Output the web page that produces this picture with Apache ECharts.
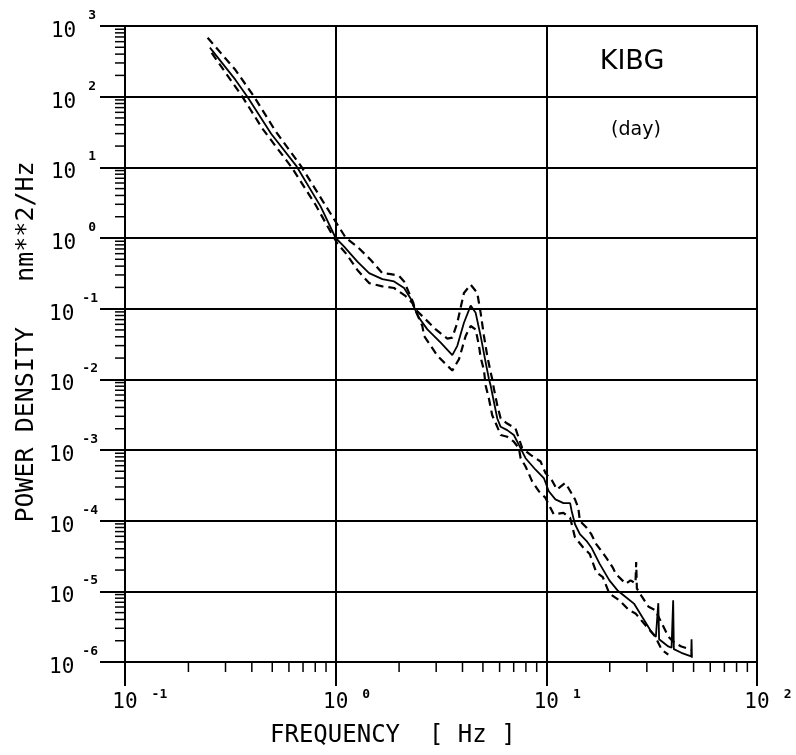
<!DOCTYPE html>
<html>
<head>
<meta charset="utf-8">
<title>KIBG power density</title>
<script src="https://cdn.jsdelivr.net/npm/echarts@6/dist/echarts.min.js"></script>
<style>
  html, body { margin: 0; padding: 0; background: #fff; }
  #chart { width: 796px; height: 755px; }
</style>
</head>
<body>
<div id="chart"></div>
<script>
// Axis ranges (log scales)
const X_MIN = 0.1, X_MAX = 100;
const Y_MIN = 1e-6, Y_MAX = 1e3;

// Mean power density spectrum (solid)
const freqMean = [0.253, 0.334, 0.381, 0.494, 0.653, 0.848, 1.0, 1.097, 1.268, 1.441, 1.666, 1.894,
  2.112, 2.287, 2.374, 2.487, 2.724, 3.152, 3.578, 3.779, 4.064, 4.374, 4.618, 4.877, 5.151, 5.34,
  5.44, 5.64, 5.85, 6.07, 6.52, 7.01, 7.41, 7.97, 8.89, 9.73, 10.27, 11.04, 12.06, 12.97, 13.19,
  13.68, 14.43, 15.5, 16.35, 17.89, 19.92, 21.78, 23.81, 26.06, 28.48, 31.13, 33.1, 33.7, 34.0,
  34.3, 34.92, 37.93, 39.3, 39.7, 40.0, 40.3, 43.75, 48.7, 48.9, 49.1];
const powMean = [495, 174, 100, 29.9, 10.3, 2.8, 1.0, 0.753, 0.464, 0.318, 0.262, 0.243,
  0.196, 0.134, 0.0993, 0.0743, 0.0509, 0.0331, 0.0220, 0.0298, 0.0632, 0.1105, 0.0873, 0.0411, 0.0174, 0.0101,
  0.00818, 0.00478, 0.00279, 0.00213, 0.00191, 0.00163, 0.00118, 0.000765, 0.000526, 0.000401, 0.000261, 0.0002, 0.000177, 0.000177, 0.000137,
  0.000089, 0.0000644, 0.0000519, 0.0000418, 0.0000247, 0.0000143, 0.0000103, 0.00000832, 0.00000671, 0.00000436, 0.00000284, 0.00000226, 0.0000022, 0.0000068,
  0.0000021, 0.00000199, 0.00000166, 0.00000159, 0.00000158, 0.0000075, 0.00000152, 0.00000135, 0.0000012, 0.0000021, 0.00000115];

// Upper bound (dashed)
const freqUpper = [0.2467, 0.334, 0.410, 0.52, 0.691, 0.87, 1.118, 1.268, 1.468, 1.666, 1.827, 2.0,
  2.112, 2.23, 2.338, 2.374, 2.627, 2.985, 3.388, 3.578, 3.779, 4.064, 4.374, 4.70, 4.877, 5.057,
  5.24, 5.44, 5.535, 5.64, 5.85, 6.07, 6.52, 7.14, 7.41, 7.68, 8.42, 9.39, 9.91, 10.64, 11.23,
  12.29, 12.73, 13.68, 14.18, 14.43, 15.5, 16.35, 17.25, 18.2, 19.2, 20.64, 21.38, 23.81, 25.1,
  26.5, 26.7, 26.9, 28.48, 30.6, 32.9, 37.93, 40.72, 43.75, 48.72];
const powUpper = [682, 240, 100, 32, 10, 3.3, 1.0, 0.753, 0.489, 0.318, 0.308, 0.291,
  0.243, 0.167, 0.1206, 0.0993, 0.0743, 0.0509, 0.0377, 0.0389, 0.0632, 0.167, 0.218, 0.167, 0.0873, 0.0411,
  0.0216, 0.0126, 0.0101, 0.00733, 0.0043, 0.00279, 0.00237, 0.00201, 0.00146, 0.00106, 0.000853, 0.000688, 0.000471, 0.00037, 0.000275,
  0.000341, 0.00029, 0.0002, 0.000152, 0.0000991, 0.0000798, 0.0000644, 0.0000467, 0.0000376, 0.0000303, 0.0000219, 0.0000177, 0.0000128, 0.0000143,
  0.000013, 0.000026, 0.000011, 0.00000832, 0.00000603, 0.00000542, 0.00000229, 0.00000185, 0.00000166, 0.00000149];

// Lower bound (dashed)
const freqLower = [0.258, 0.3606, 0.45, 0.618, 0.80, 0.983, 1.02, 1.118, 1.268, 1.441, 1.666, 1.894,
  2.151, 2.312, 2.374, 2.579, 2.627, 2.827, 3.038, 3.578, 3.85, 4.14, 4.374, 4.618, 4.79, 4.877,
  5.057, 5.151, 5.34, 5.535, 5.85, 6.07, 6.52, 7.01, 7.41, 7.55, 7.97, 8.56, 9.21, 9.91, 10.84,
  12.06, 12.97, 13.68, 14.96, 16.07, 17.25, 18.54, 19.92, 22.18, 24.69, 26.5, 29.5, 32.9, 35.3, 37.93];
const powLower = [415, 100, 35, 10, 3.0, 1.0, 0.837, 0.606, 0.353, 0.230, 0.207, 0.196,
  0.150, 0.1206, 0.0993, 0.0569, 0.0411, 0.0298, 0.0216, 0.0133, 0.0193, 0.0411, 0.0569, 0.0509, 0.0298, 0.0205,
  0.0135, 0.00818, 0.00531, 0.0031, 0.00213, 0.00163, 0.00154, 0.00131, 0.00106, 0.000765, 0.000585, 0.00036, 0.000261, 0.00021, 0.000123,
  0.000129, 0.00011, 0.0000578, 0.0000418, 0.0000338, 0.0000187, 0.0000159, 0.00000929, 0.00000748, 0.00000542, 0.00000487, 0.00000333, 0.00000229, 0.00000149, 0.00000127];

// Logarithmic minor tick positions (2..9 of each decade)
const minorFreq = [0.2, 0.3, 0.4, 0.5, 0.6, 0.7, 0.8, 0.9, 2, 3, 4, 5, 6, 7, 8, 9, 20, 30, 40, 50, 60, 70, 80, 90];
const minorPow = [];
for (let e = -6; e < 3; e++) {
  for (let m = 2; m <= 9; m++) minorPow.push(Number((m * Math.pow(10, e)).toPrecision(3)));
}

// Text
const xTitle = 'FREQUENCY  [ Hz ]';
const yTitle = 'POWER DENSITY   nm**2/Hz';
const stationName = 'KIBG';
const periodName = '(day)';

const MONO = '"DejaVu Sans Mono", "Liberation Mono", monospace';
const pairs = (xs, ys) => xs.map((x, i) => [x, ys[i]]);
const expOf = v => Math.round(Math.log10(v));

const chart = echarts.init(document.getElementById('chart'), null, { renderer: 'canvas' });

const minorTickSeries = (data, horizontal) => ({
  type: 'custom',
  silent: true,
  clip: false,
  z: 5,
  data: data,
  renderItem: (params, api) => {
    const p = api.coord([api.value(0), api.value(1)]);
    const shape = horizontal
      ? { x1: p[0], y1: p[1], x2: p[0], y2: p[1] + 10 }
      : { x1: p[0] - 10, y1: p[1], x2: p[0], y2: p[1] };
    return { type: 'line', shape: shape, style: { stroke: '#000', lineWidth: 1.5 } };
  }
});

// Superscript exponent styles
const expStyle = { fontFamily: MONO, fontSize: 13, fontWeight: 'bold', lineHeight: 13, color: '#000' };

const option = {
  animation: false,
  backgroundColor: '#fff',
  grid: {
    left: 125, right: 39, top: 26, bottom: 93,
    show: true, borderColor: '#000', borderWidth: 2,
    containLabel: false, outerBoundsMode: 'none'
  },
  xAxis: {
    type: 'log', logBase: 10, min: X_MIN, max: X_MAX,
    axisLine: { show: true, lineStyle: { color: '#000', width: 2 } },
    axisTick: { show: true, inside: false, length: 24, lineStyle: { color: '#000', width: 2 } },
    minorTick: { show: false },
    splitLine: { show: true, lineStyle: { color: '#000', width: 2 } },
    axisLabel: {
      show: true, margin: 26, showMinLabel: true, showMaxLabel: true, hideOverlap: false,
      color: '#000',
      formatter: v => {
        const e = String(expOf(v));
        return '{p' + e.length + '|10}{e|' + e + '}';
      },
      rich: {
        p1: { fontFamily: MONO, fontSize: 21, lineHeight: 22, color: '#000', padding: [8, 0, 0, 21.8] },
        p2: { fontFamily: MONO, fontSize: 21, lineHeight: 22, color: '#000', padding: [8, 0, 0, 29.6] },
        e: Object.assign({}, expStyle, { padding: [0, 0, 8, 14] })
      }
    }
  },
  yAxis: {
    type: 'log', logBase: 10, min: Y_MIN, max: Y_MAX,
    axisLine: { show: true, lineStyle: { color: '#000', width: 2 } },
    axisTick: { show: true, inside: false, length: 25, lineStyle: { color: '#000', width: 2 } },
    minorTick: { show: false },
    splitLine: { show: true, lineStyle: { color: '#000', width: 2 } },
    axisLabel: {
      show: true, margin: 27, showMinLabel: true, showMaxLabel: true, hideOverlap: false,
      color: '#000',
      formatter: v => {
        const e = String(expOf(v));
        return '{b|10}{e' + e.length + '|' + e + '}';
      },
      rich: {
        b: { fontFamily: MONO, fontSize: 21, lineHeight: 22, color: '#000', padding: [11, 0, 0, 0] },
        e1: Object.assign({}, expStyle, { padding: [0, 2, 21, 12] }),
        e2: Object.assign({}, expStyle, { padding: [0, 0, 21, 8] })
      }
    }
  },
  graphic: [
    {
      type: 'text', left: 270, top: 724, silent: true,
      style: { text: xTitle, fontFamily: MONO, fontSize: 24, fill: '#000' }
    },
    {
      type: 'text', x: 26, y: 342, rotation: Math.PI / 2, silent: true,
      style: { text: yTitle, fontFamily: MONO, fontSize: 25, fill: '#000', align: 'center', verticalAlign: 'middle' }
    },
    {
      type: 'text', x: 632, y: 62, silent: true,
      style: { text: stationName, fontFamily: '"DejaVu Sans", sans-serif', fontSize: 27, fill: '#000', align: 'center', verticalAlign: 'middle' }
    },
    {
      type: 'text', x: 636, y: 130, silent: true,
      style: { text: periodName, fontFamily: '"DejaVu Sans", sans-serif', fontSize: 19, fill: '#000', align: 'center', verticalAlign: 'middle' }
    }
  ],
  series: [
    {
      name: 'mean', type: 'line', data: pairs(freqMean, powMean),
      showSymbol: false, smooth: false, z: 10,
      lineStyle: { color: '#000', width: 1.8 }
    },
    {
      name: 'upper', type: 'line', data: pairs(freqUpper, powUpper),
      showSymbol: false, smooth: false, z: 10,
      lineStyle: { color: '#000', width: 2.2, type: [8, 5] }
    },
    {
      name: 'lower', type: 'line', data: pairs(freqLower, powLower),
      showSymbol: false, smooth: false, z: 10,
      lineStyle: { color: '#000', width: 2.2, type: [8, 5] }
    },
    minorTickSeries(minorFreq.map(f => [f, Y_MIN]), true),
    minorTickSeries(minorPow.map(p => [X_MIN, p]), false)
  ]
};

chart.setOption(option);
</script>
</body>
</html>
